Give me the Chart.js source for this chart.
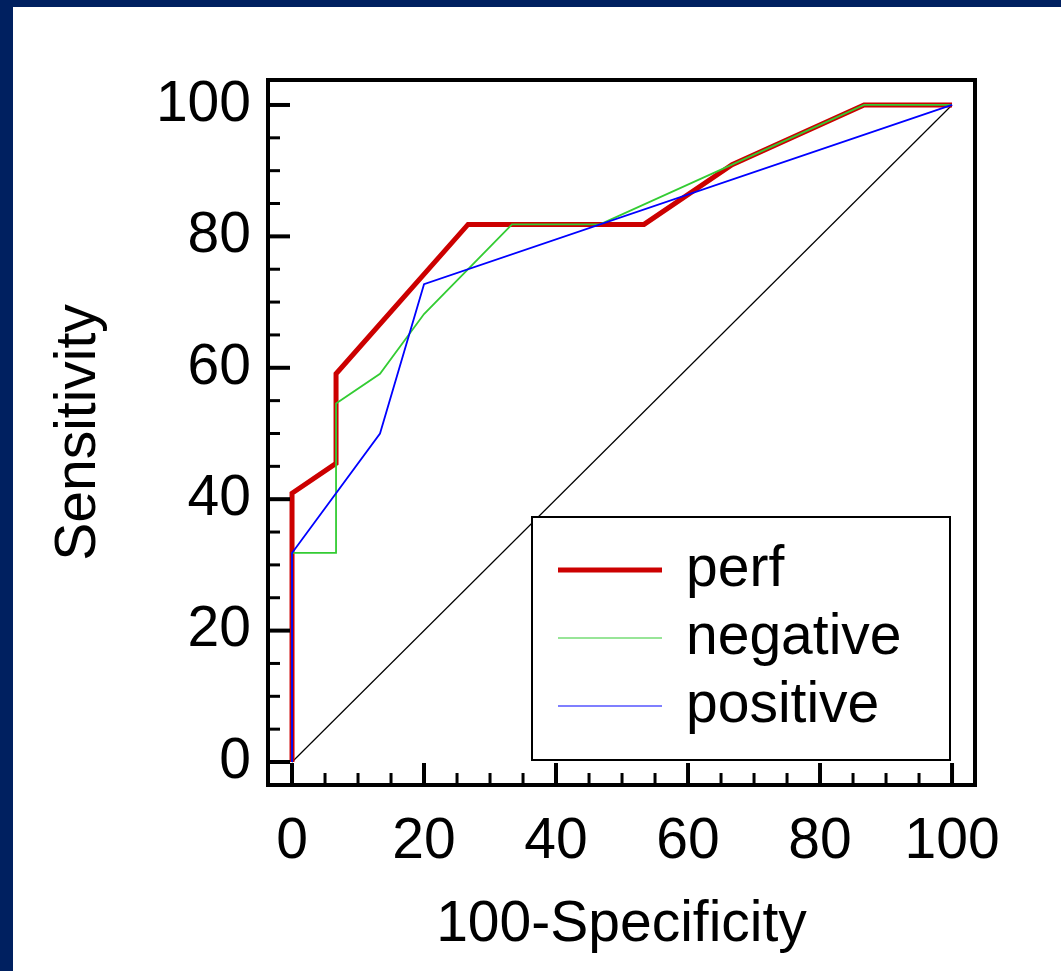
<!DOCTYPE html>
<html>
<head>
<meta charset="utf-8">
<script src="https://cdn.jsdelivr.net/npm/chart.js@4/dist/chart.umd.min.js"></script>
<style>
  html, body { margin: 0; padding: 0; background: #002060; width: 1061px; height: 971px; overflow: hidden; }
  #wrap { position: absolute; left: 13px; top: 7px; width: 1048px; height: 964px; background: #fff; }
</style>
</head>
<body>
<div id="wrap"><canvas id="roc" width="1048" height="964"></canvas></div>
<script>
// ROC curves, values in percent
const perfX = [0, 0, 6.67, 6.67, 26.67, 53.33, 66.67, 86.67, 100];
const perfY = [0, 40.91, 45.45, 59.09, 81.82, 81.82, 90.91, 100, 100];
const negX = [0, 0, 6.67, 6.67, 13.33, 20, 33.33, 46.67, 66.67, 86.67, 100];
const negY = [0, 31.82, 31.82, 54.55, 59.09, 68.18, 81.82, 81.82, 90.91, 100, 100];
const posX = [0, 0, 13.33, 20, 100];
const posY = [0, 31.82, 50, 72.73, 100];
const diagX = [0, 100];
const diagY = [0, 100];

const seriesNames = ['perf', 'negative', 'positive'];
const tickValues = [0, 5, 10, 15, 20, 25, 30, 35, 40, 45, 50, 55, 60, 65, 70, 75, 80, 85, 90, 95, 100];
const tickLabels = [0, 20, 40, 60, 80, 100];

const FONT = { family: "'Liberation Sans', Arial, sans-serif", size: 57 };

function pts(xs, ys) { return xs.map((x, i) => ({ x: x, y: ys[i] })); }

// frame, inward ticks and the boxed legend
const frameTicks = {
    id: 'frameTicks',
    afterDatasetsDraw(chart) {
        const ctx = chart.ctx;
        const a = chart.chartArea;
        ctx.save();
        ctx.strokeStyle = '#000';
        ctx.lineCap = 'butt';
        chart.scales.x.ticks.forEach(t => {
            const px = chart.scales.x.getPixelForValue(t.value);
            const major = tickLabels.includes(t.value);
            ctx.lineWidth = major ? 4 : 3;
            ctx.beginPath();
            ctx.moveTo(px, a.bottom);
            ctx.lineTo(px, a.bottom - (major ? 22 : 12));
            ctx.stroke();
        });
        chart.scales.y.ticks.forEach(t => {
            const py = chart.scales.y.getPixelForValue(t.value);
            const major = tickLabels.includes(t.value);
            ctx.lineWidth = major ? 4 : 3;
            ctx.beginPath();
            ctx.moveTo(a.left, py);
            ctx.lineTo(a.left + (major ? 22 : 12), py);
            ctx.stroke();
        });
        ctx.lineWidth = 4;
        ctx.strokeRect(a.left, a.top, a.right - a.left, a.bottom - a.top);

        // legend box
        const lx = 519, ly = 510, lw = 418, lh = 243;
        ctx.fillStyle = '#fff';
        ctx.fillRect(lx, ly, lw, lh);
        ctx.lineWidth = 2;
        ctx.strokeRect(lx, ly, lw, lh);
        ctx.font = FONT.size + 'px ' + FONT.family;
        ctx.textBaseline = 'middle';
        ctx.textAlign = 'left';
        seriesNames.forEach((name, i) => {
            const ds = chart.data.datasets[i];
            const y = 563 + i * 68;
            ctx.strokeStyle = ds.borderColor;
            ctx.lineWidth = i === 0 ? 5 : 1.2;
            ctx.beginPath();
            ctx.moveTo(545, y);
            ctx.lineTo(649, y);
            ctx.stroke();
            ctx.fillStyle = '#000';
            ctx.fillText(name, 673, y);
        });
        ctx.restore();
    }
};

new Chart(document.getElementById('roc'), {
    type: 'scatter',
    data: {
        datasets: [
            { label: seriesNames[0], data: pts(perfX, perfY), borderColor: '#cc0000', borderWidth: 5, order: 3 },
            { label: seriesNames[1], data: pts(negX, negY), borderColor: '#33cc33', borderWidth: 1.8, order: 2 },
            { label: seriesNames[2], data: pts(posX, posY), borderColor: '#0000ff', borderWidth: 1.8, order: 1 },
            { label: 'reference', data: pts(diagX, diagY), borderColor: '#000', borderWidth: 1.2, order: 4 }
        ].map(d => Object.assign(d, { showLine: true, pointRadius: 0, fill: false, tension: 0, borderJoinStyle: 'miter' }))
    },
    options: {
        responsive: false,
        devicePixelRatio: 1,
        animation: false,
        layout: { padding: { top: 73, right: 86, left: 0, bottom: 0 } },
        plugins: { legend: { display: false }, tooltip: { enabled: false } },
        scales: {
            x: {
                type: 'linear', min: -3.64, max: 103.48,
                afterBuildTicks: s => { s.ticks = tickValues.map(v => ({ value: v })); },
                afterFit: s => { s.height = 186; },
                grid: { display: false }, border: { display: false },
                ticks: { autoSkip: false, maxRotation: 0, padding: 15, color: '#000', font: FONT,
                         callback: v => tickLabels.includes(v) ? String(v) : '' },
                title: { display: true, text: '100-Specificity', color: '#000', font: FONT, padding: { top: 0, bottom: 12 } }
            },
            y: {
                type: 'linear', min: -3.5, max: 103.8,
                afterBuildTicks: s => { s.ticks = tickValues.map(v => ({ value: v })); },
                afterFit: s => { s.width = 255; },
                grid: { display: false }, border: { display: false },
                ticks: { autoSkip: false, padding: 9, color: '#000', font: FONT,
                         callback: v => tickLabels.includes(v) ? String(v) : '' },
                title: { display: true, text: 'Sensitivity', color: '#000', font: FONT, padding: { top: 32, bottom: 0 } }
            }
        }
    },
    plugins: [frameTicks]
});
</script>
</body>
</html>
